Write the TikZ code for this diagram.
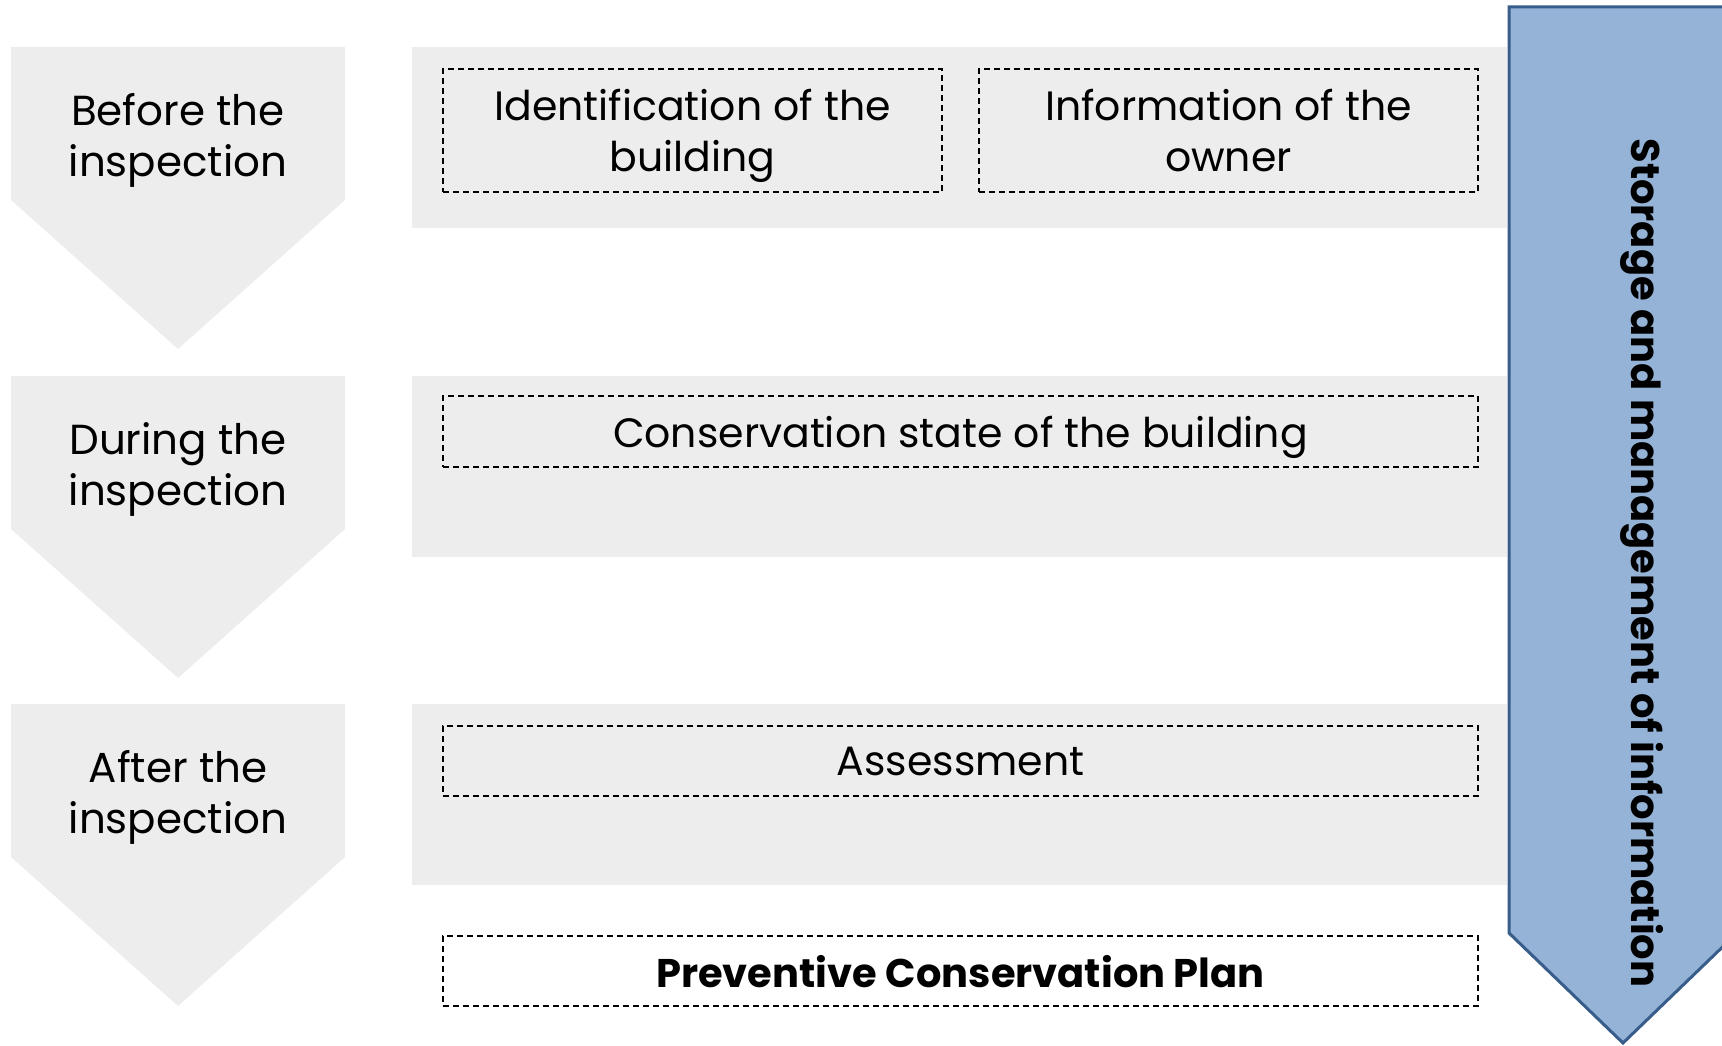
\documentclass[tikz,border=0pt]{standalone}
\usepackage{fontspec}
\setmainfont{Poppins}
\usepackage{xcolor}
\usepackage{tikz}
\usetikzlibrary{positioning}
\definecolor{phasegrey}{HTML}{EDEDED}
\definecolor{storefill}{HTML}{95B3D7}
\definecolor{storeline}{HTML}{385D8A}

\begin{document}
\begin{tikzpicture}[x=1pt, y=-1pt,
    phasetext/.style={align=center, font=\fontsize{42}{51}\selectfont},
    itembox/.style={draw=black, dashed, dash pattern=on 6pt off 4pt, line width=1.4pt,
        align=center, inner sep=0pt, text depth=0pt,
        font=\fontsize{41}{51}\selectfont}]
    \clip (0,0) rectangle (1722,1046);

    % Phases of the inspection
    \foreach \top/\name/\txt in {47/before/{Before the\\inspection},
                                376/during/{During the\\inspection},
                                704/after/{After the\\inspection}} {
        \fill[phasegrey] (11,\top) -- (345,\top) -- (345,\top+153) -- (178,\top+302) -- (11,\top+153) -- cycle;
        \fill[phasegrey] (412,\top) rectangle (1507,\top+181);
        \node[phasetext] (\name) at (178,\top+93) {\txt};
    }

    % Information items
    \node[itembox, minimum width=499pt, minimum height=123pt] (ident) at (692.5,130.5) {Identification of the\\building};
    \node[itembox, minimum width=499pt, minimum height=123pt] (owner) at (1228.5,130.5) {Information of the\\owner};
    \node[itembox, minimum width=1035pt, minimum height=71pt] (state) at (960.5,431.5) {Conservation state of the building};
    \node[itembox, minimum width=1035pt, minimum height=70pt] (assess) at (960.5,761) {Assessment};
    \node[itembox, fill=white, minimum width=1035pt, minimum height=70pt, font=\fontsize{40}{51}\selectfont\bfseries] (plan) at (960.5,971) {Preventive Conservation Plan};

    % Storage arrow
    \filldraw[fill=storefill, draw=storeline, line width=3pt] (1509,7) -- (1737,7) -- (1737,933) -- (1623,1043) -- (1509,933) -- cycle;
    \node[rotate=-90, font=\fontsize{40}{51}\selectfont\bfseries] (storage) at (1642,563) {Storage and management of information};
\end{tikzpicture}
\end{document}
